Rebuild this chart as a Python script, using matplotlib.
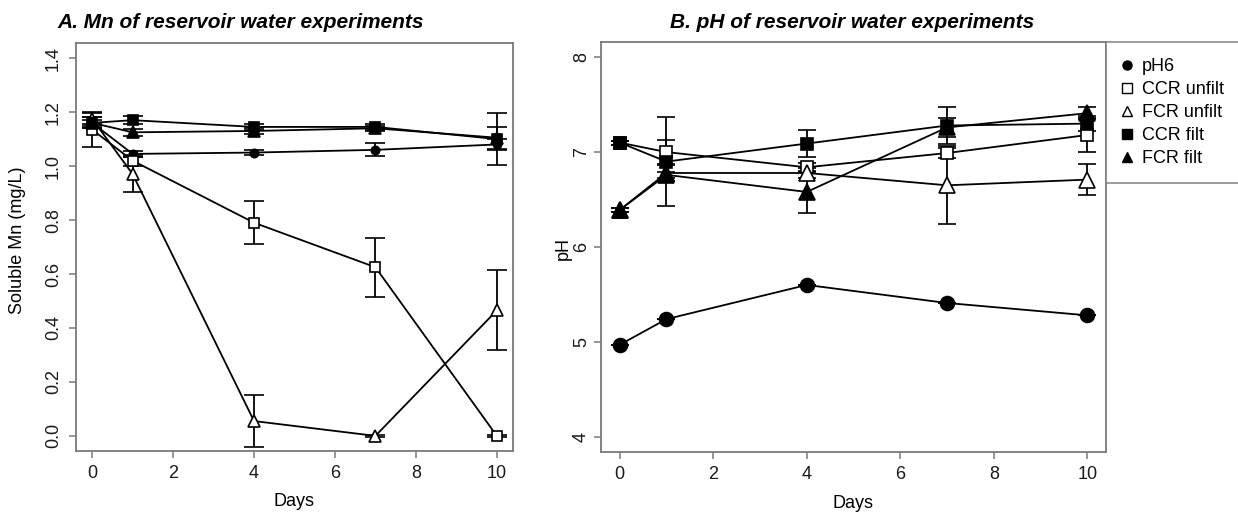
import matplotlib
matplotlib.use("Agg")
import matplotlib.pyplot as plt
import numpy as np

plt.rcParams['font.family'] = ['Liberation Sans', 'DejaVu Sans']

days = [0, 1, 4, 7, 10]
series = ["pH6", "CCR unfilt", "FCR unfilt", "CCR filt", "FCR filt"]

# soluble Mn (mg/L), mean and error
mn_ph6 = [1.16, 1.045, 1.05, 1.06, 1.08]
mn_ph6_sd = [0.01, 0.01, 0.008, 0.024, 0.02]
mn_ccr_unf = [1.135, 1.02, 0.79, 0.625, 0.0]
mn_ccr_unf_sd = [0.065, 0.02, 0.08, 0.11, 0.005]
mn_fcr_unf = [1.175, 0.97, 0.055, 0.0, 0.465]
mn_fcr_unf_sd = [0.02, 0.065, 0.095, 0.005, 0.148]
mn_ccr_f = [1.16, 1.17, 1.145, 1.145, 1.10]
mn_ccr_f_sd = [0.02, 0.015, 0.012, 0.012, 0.095]
mn_fcr_f = [1.16, 1.125, 1.13, 1.14, 1.105]
mn_fcr_f_sd = [0.02, 0.012, 0.01, 0.01, 0.04]

# pH
ph_ph6 = [4.97, 5.24, 5.60, 5.41, 5.28]
ph_ph6_sd = [0.0, 0.0, 0.0, 0.0, 0.0]
ph_ccr_unf = [7.10, 7.00, 6.84, 6.99, 7.18]
ph_ccr_unf_sd = [0.02, 0.13, 0.05, 0.05, 0.18]
ph_fcr_unf = [6.39, 6.78, 6.78, 6.65, 6.71]
ph_fcr_unf_sd = [0.02, 0.08, 0.05, 0.41, 0.16]
ph_ccr_f = [7.10, 6.90, 7.09, 7.28, 7.30]
ph_ccr_f_sd = [0.02, 0.47, 0.14, 0.19, 0.08]
ph_fcr_f = [6.39, 6.76, 6.58, 7.26, 7.41]
ph_fcr_f_sd = [0.02, 0.03, 0.22, 0.10, 0.06]

mn_means = [mn_ph6, mn_ccr_unf, mn_fcr_unf, mn_ccr_f, mn_fcr_f]
mn_sds = [mn_ph6_sd, mn_ccr_unf_sd, mn_fcr_unf_sd, mn_ccr_f_sd, mn_fcr_f_sd]
ph_means = [ph_ph6, ph_ccr_unf, ph_fcr_unf, ph_ccr_f, ph_fcr_f]
ph_sds = [ph_ph6_sd, ph_ccr_unf_sd, ph_fcr_unf_sd, ph_ccr_f_sd, ph_fcr_f_sd]

markers = ['o', 's', '^', 's', '^']
fills = ['black', 'white', 'white', 'black', 'black']
ms_left = [6, 7, 8, 7, 8]
ms_right = [10, 9, 11, 9, 11]

gray = '#7a7a7a'

fig = plt.figure(figsize=(12.38, 5.17), dpi=100)
W, H = 1238, 517
ax1 = fig.add_axes([76/W, 1-451/H, (513-76)/W, (451-43)/H])
ax2 = fig.add_axes([601/W, 1-452/H, (1106-601)/W, (452-42)/H])


def style(ax, ypad):
    for s in ax.spines.values():
        s.set_color(gray)
        s.set_linewidth(1.3)
    ax.tick_params(direction='out', length=5, width=1.1, color=gray,
                   labelsize=13, labelcolor='#1a1a1a')
    ax.tick_params(axis='x', pad=5)
    ax.tick_params(axis='y', pad=ypad)
    for lab in ax.get_yticklabels():
        lab.set_rotation(90)
        lab.set_va('center')


def draw(ax, means, sds, sizes, cap):
    for i in range(5):
        ax.errorbar(days, means[i], yerr=sds[i], color='black', lw=1.3,
                    marker=markers[i], ms=sizes[i], mfc=fills[i], mec='black',
                    mew=1.2, capsize=cap, capthick=1.3, elinewidth=1.3,
                    label=series[i], zorder=3)


draw(ax1, mn_means, mn_sds, ms_left, 7)
ax1.set_xlim(-0.4, 10.4)
ax1.set_ylim(-0.056, 1.456)
ax1.set_xticks([0, 2, 4, 6, 8, 10])
ax1.set_yticks([0.0, 0.2, 0.4, 0.6, 0.8, 1.0, 1.2, 1.4])
ax1.set_yticklabels(["0.0", "0.2", "0.4", "0.6", "0.8", "1.0", "1.2", "1.4"])
style(ax1, 5)

draw(ax2, ph_means, ph_sds, ms_right, 6.5)
ax2.set_xlim(-0.4, 10.4)
ax2.set_ylim(3.84, 8.16)
ax2.set_xticks([0, 2, 4, 6, 8, 10])
ax2.set_yticks([4, 5, 6, 7, 8])
style(ax2, 3)

# legend to the right of panel B
handles = [plt.Line2D([], [], ls='none', marker=markers[i], ms=6.5,
                      mfc=fills[i], mec='black', mew=1.0) for i in range(5)]
leg = ax2.legend(handles, series, loc='upper left', bbox_to_anchor=(1.0, 1.0),
                 frameon=True, fancybox=False, fontsize=13, handlelength=0.5,
                 handletextpad=0.6, borderaxespad=0, borderpad=0.9,
                 labelspacing=0.33)
leg.get_frame().set_edgecolor(gray)
leg.get_frame().set_linewidth(1.3)

fig.text(241/W, 1-22/H, "A. Mn of reservoir water experiments", ha='center',
         va='center', fontsize=15, fontweight='bold', fontstyle='italic')
fig.text(852/W, 1-22/H, "B. pH of reservoir water experiments", ha='center',
         va='center', fontsize=15, fontweight='bold', fontstyle='italic')

fig.text(294/W, 1-502/H, "Days", ha='center', va='center', fontsize=13)
fig.text(853/W, 1-504/H, "Days", ha='center', va='center', fontsize=13)
fig.text(18/W, 1-240/H, "Soluble Mn (mg/L)", ha='center', va='center',
         rotation=90, fontsize=13)
fig.text(563/W, 1-248/H, "pH", ha='center', va='center', rotation=90,
         fontsize=13)

fig.savefig("out.png", dpi=100)
